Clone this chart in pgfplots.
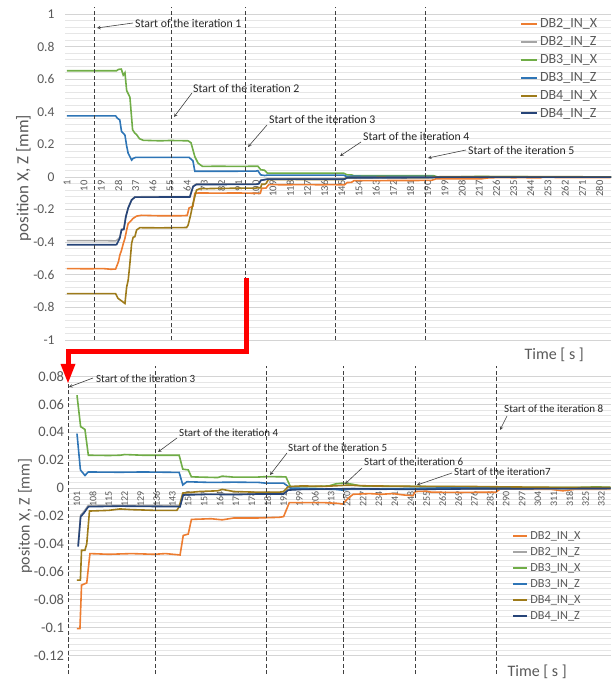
\documentclass[border=0pt]{standalone}
\usepackage{pgfplots}
\pgfplotsset{compat=1.18}
\usepackage{pgfplotstable}
\usepackage{fontspec}
\setmainfont{Carlito}
\definecolor{cOr}{HTML}{ED7D31}
\definecolor{cGr}{HTML}{A5A5A5}
\definecolor{cGn}{HTML}{70AD47}
\definecolor{cBl}{HTML}{2E75B6}
\definecolor{cOl}{HTML}{9E7B1A}
\definecolor{cDb}{HTML}{264478}
\definecolor{tickc}{HTML}{595959}
\definecolor{majg}{HTML}{D4D4D4}
\definecolor{ming}{HTML}{E6E6E6}
\definecolor{dashc}{HTML}{404040}
\definecolor{annc}{HTML}{262626}

\pgfplotstableread{
x y
1 -0.562
12 -0.563
20 -0.562
24 -0.566
26.5 -0.565
27 -0.55
28 -0.52
28.7 -0.48
29.6 -0.45
30.5 -0.41
31.4 -0.376
32.3 -0.325
33.1 -0.285
34.9 -0.264
35.7 -0.254
37.5 -0.24
40 -0.235
50 -0.238
60 -0.238
64 -0.236
65 -0.19
67 -0.18
68 -0.10
70 -0.098
80 -0.099
90 -0.098
100 -0.10
101 -0.1008
102.3 -0.1008
103 -0.0696
105.3 -0.068
106.7 -0.047
115 -0.0475
125 -0.047
135 -0.0475
140 -0.047
146.4 -0.048
147.8 -0.034
150 -0.033
151.4 -0.0225
160 -0.022
165 -0.0228
170 -0.0215
180 -0.0215
190 -0.021
192 -0.0205
194.5 -0.0105
200 -0.0105
210 -0.0105
216 -0.011
218 -0.0115
220 -0.008
222.6 -0.0045
230 -0.004
235 -0.0045
240 -0.004
245 -0.005
249 -0.0055
250 -0.0025
255 -0.0023
257 -0.003
270 -0.0032
280 -0.003
285.5 -0.003
287.5 -0.0005
300 -0.001
310 -0.001
315 -0.002
320 -0.001
336 -0.001
}\tOr

\pgfplotstableread{
x y
1 -0.39
20 -0.39
26.5 -0.392
27.5 -0.385
28.7 -0.37
29.6 -0.32
30.8 -0.318
31.9 -0.24
33.1 -0.19
34.9 -0.14
36.6 -0.122
50 -0.12
65.4 -0.12
67.1 -0.056
68.8 -0.043
100 -0.043
101.5 -0.041
102.6 -0.0195
104 -0.017
106 -0.0125
146.4 -0.0125
147.8 -0.0045
192 -0.004
194 -0.001
336 -0.0005
}\tGr

\pgfplotstableread{
x y
1 0.652
27 0.652
28 0.66
29.5 0.662
30.5 0.625
31.4 0.64
32.3 0.53
34 0.49
35.4 0.29
36.5 0.27
37.5 0.26
39 0.235
41 0.225
50 0.222
55 0.224
60 0.223
64.5 0.222
66 0.21
68 0.125
69.7 0.085
72 0.065
80 0.066
90 0.065
100 0.066
101 0.0665
102.6 0.044
104.5 0.042
106 0.0235
115 0.0233
120 0.0235
122 0.024
130 0.0235
146 0.0235
147.6 0.0135
150 0.013
151.4 0.008
163 0.0075
165 0.0085
170 0.0078
180 0.0078
185 0.0082
193 0.008
195 0.001
205 0.001
212 0.0015
215 0.003
218 0.0035
222 0.0028
226 0.0015
240 0.0012
260 0.001
290 0.0005
320 0.0004
330 0.0008
336 0.0005
}\tGn

\pgfplotstableread{
x y
1 0.375
26.5 0.375
27.5 0.36
28.7 0.35
29.6 0.28
31.4 0.257
32.3 0.19
33.1 0.145
34.9 0.104
35.7 0.114
37 0.12
50 0.12
65 0.12
67 0.10
68 0.035
80 0.035
100 0.036
101 0.039
102.5 0.013
104.5 0.009
106 0.0115
120 0.0113
130 0.0115
146 0.0112
147.6 0.0022
149.4 0.0045
160 0.004
170 0.0042
181 0.004
184 0.0035
192 0.0035
195 0.0
205 -0.0005
215 -0.001
218 -0.0015
222 -0.0005
240 -0.0005
260 0
336 0
}\tBl

\pgfplotstableread{
x y
1 -0.716
26.5 -0.716
27.8 -0.745
29.6 -0.76
31.4 -0.776
32.3 -0.675
33.1 -0.633
34 -0.53
34.9 -0.407
35.7 -0.37
36.6 -0.366
37.5 -0.325
39.2 -0.311
50 -0.312
63.7 -0.31
64.5 -0.295
65.8 -0.233
67.1 -0.16
68.9 -0.08
70.6 -0.072
80 -0.07
100 -0.068
101 -0.066
102.5 -0.066
103 -0.0446
104.5 -0.0446
105.3 -0.040
106.5 -0.0165
115 -0.016
120 -0.015
125 -0.0155
135 -0.016
145 -0.016
146 -0.0134
147.6 -0.0036
155 -0.0025
163 -0.002
165 -0.001
170 -0.0025
180 -0.003
190 -0.003
192 -0.0025
194 0.001
200 0.0015
210 0.0012
220 0.002
230 0.0015
250 0.0012
270 0.0012
290 0.0008
310 0.0005
336 0.0005
}\tOl

\pgfplotstableread{
x y
1 -0.416
26.5 -0.416
27 -0.415
28.7 -0.376
29.6 -0.325
30.8 -0.322
31.9 -0.243
33.1 -0.19
34.9 -0.141
36.6 -0.124
50 -0.123
65.4 -0.123
67.1 -0.059
68.8 -0.046
80 -0.046
100 -0.045
101.5 -0.042
102.6 -0.0206
104 -0.018
106 -0.0134
120 -0.013
146.4 -0.0134
147.8 -0.005
160 -0.0045
170 -0.0048
180 -0.0043
192 -0.0043
194 -0.0015
200 -0.001
220 -0.0005
250 -0.001
280 -0.0005
300 -0.0005
336 -0.0003
}\tDb

\pgfplotsset{
  common/.style={
    scale only axis,
    anchor=south west,
    axis x line*=middle,
    axis y line*=left,
    separate axis lines,
    x axis line style={draw=majg},
    y axis line style={draw=none},
    major tick length=0pt,
    minor tick length=0pt,
    ymajorgrids, yminorgrids,
    major grid style={draw=majg, line width=0.7bp},
    minor grid style={draw=ming, line width=0.7bp},
    minor y tick num=4,
    no marks,
    /pgf/number format/assume math mode=true,
    ticklabel style={text=tickc},
    xticklabel style={rotate=90, anchor=east},
    legend cell align=left,
  },
  dl/.style={dashc, line width=0.8bp, dash pattern=on 4bp off 2.5bp, forget plot},
  dsr/.style={line width=1.6bp},
  bd/.style={line width=1.6bp, restrict x to domain=100.9:340},
}

\begin{document}
\begin{tikzpicture}[x=1bp,y=1bp]
\useasboundingbox (0,0) rectangle (614,682);

% ---------- top chart ----------
\begin{axis}[common,
  at={(65bp,342bp)}, width=546bp, height=333bp,
  xmin=0, xmax=286, ymin=-1, ymax=1.043,
  xtick={1,10,...,280},
  ytick={-1,-0.8,-0.6,-0.4,-0.2,0,0.2,0.4,0.6,0.8,1},
  xticklabel style={font=\fontsize{10.5bp}{12bp}\selectfont},
  yticklabel style={font=\fontsize{13.5bp}{15bp}\selectfont, xshift=-7bp},
  every axis y label/.style={at={(axis description cs:-0.076,0.486)}, rotate=90, anchor=center, font=\fontsize{17bp}{19bp}\selectfont, text=tickc},
  every axis x label/.style={at={(axis description cs:0.896,-0.045)}, anchor=center, font=\fontsize{16bp}{18bp}\selectfont, text=tickc},
  ylabel={position X, Z [mm]},
  xlabel={Time [ s ]},
  legend style={at={(axis description cs:0.833,0.972)}, anchor=north west, draw=none, fill=none,
    font=\fontsize{14bp}{16bp}\selectfont, text=tickc, row sep=3.4bp, inner sep=0pt},
  legend image code/.code={\draw[#1, line width=2bp] (0bp,0bp) -- (16bp,0bp);},
]
\addplot[cOr, dsr] table {\tOr};
\addlegendentry{DB2\_IN\_X}
\addplot[cGr, dsr] table {\tGr};
\addlegendentry{DB2\_IN\_Z}
\addplot[cGn, dsr] table {\tGn};
\addlegendentry{DB3\_IN\_X}
\addplot[cBl, dsr] table {\tBl};
\addlegendentry{DB3\_IN\_Z}
\addplot[cOl, dsr] table {\tOl};
\addlegendentry{DB4\_IN\_X}
\addplot[cDb, dsr] table {\tDb};
\addlegendentry{DB4\_IN\_Z}
\addplot[dl] coordinates {(15.66,-1) (15.66,1.043)};
\addplot[dl] coordinates {(55.97,-1) (55.97,1.043)};
\addplot[dl] coordinates {(94.7,-1) (94.7,1.043)};
\addplot[dl] coordinates {(141.8,-1) (141.8,1.043)};
\addplot[dl] coordinates {(189.0,-1) (189.0,1.043)};
\end{axis}

% ---------- bottom chart ----------
\begin{axis}[common,
  at={(68bp,8bp)}, width=543bp, height=308bp,
  xmin=97.04, xmax=336.2, ymin=-0.1333, ymax=0.08746,
  xtick={101,108,...,332},
  ytick={-0.12,-0.1,-0.08,-0.06,-0.04,-0.02,0,0.02,0.04,0.06,0.08},
  yticklabel style={font=\fontsize{14.5bp}{16bp}\selectfont, xshift=-0.5bp,
    /pgf/number format/fixed, /pgf/number format/precision=2},
  xticklabel style={font=\fontsize{10bp}{12bp}\selectfont},
  every axis y label/.style={at={(axis description cs:-0.079,0.513)}, rotate=90, anchor=center, font=\fontsize{16bp}{18bp}\selectfont, text=tickc},
  every axis x label/.style={at={(axis description cs:0.864,0.0065)}, anchor=center, font=\fontsize{16bp}{18bp}\selectfont, text=tickc},
  ylabel={positon X, Z [mm]},
  xlabel={Time [ s ]},
  legend style={at={(axis description cs:0.818,0.471)}, anchor=north west, draw=none, fill=none,
    font=\fontsize{12.3bp}{14bp}\selectfont, text=tickc, row sep=2.6bp, inner sep=0pt},
  legend image code/.code={\draw[#1, line width=2bp] (0bp,0bp) -- (14bp,0bp);},
]
\addplot[cOr, bd] table {\tOr};
\addlegendentry{DB2\_IN\_X}
\addplot[cGr, bd] table {\tGr};
\addlegendentry{DB2\_IN\_Z}
\addplot[cGn, bd] table {\tGn};
\addlegendentry{DB3\_IN\_X}
\addplot[cBl, bd] table {\tBl};
\addlegendentry{DB3\_IN\_Z}
\addplot[cOl, bd] table {\tOl};
\addlegendentry{DB4\_IN\_X}
\addplot[cDb, bd] table {\tDb};
\addlegendentry{DB4\_IN\_Z}
\addplot[dl] coordinates {(97.3,-0.1333) (97.3,0.08746)};
\addplot[dl] coordinates {(135.4,-0.1333) (135.4,0.08746)};
\addplot[dl] coordinates {(184.3,-0.1333) (184.3,0.08746)};
\addplot[dl] coordinates {(218.2,-0.1333) (218.2,0.08746)};
\addplot[dl] coordinates {(249.9,-0.1333) (249.9,0.08746)};
\addplot[dl] coordinates {(285.6,-0.1333) (285.6,0.08746)};
\end{axis}

% ---------- annotations ----------
\begin{scope}[font=\fontsize{11.8bp}{13bp}\selectfont, annc]
\node[anchor=west, inner sep=0pt] at (135,659) {Start of the iteration 1};
\node[anchor=west, inner sep=0pt] at (193,594) {Start of the iteration 2};
\node[anchor=west, inner sep=0pt] at (269,563) {Start of the iteration 3};
\node[anchor=west, inner sep=0pt] at (363,546) {Start of the iteration 4};
\node[anchor=west, inner sep=0pt] at (468,532) {Start of the iteration 5};
\end{scope}
\begin{scope}[font=\fontsize{11bp}{12bp}\selectfont, annc]
\node[anchor=west, inner sep=0pt] at (96,303) {Start of the iteration 3};
\node[anchor=west, inner sep=0pt] at (179,249) {Start of the iteration 4};
\node[anchor=west, inner sep=0pt] at (288,234) {Start of the iteration 5};
\node[anchor=west, inner sep=0pt] at (364,220) {Start of the iteration 6};
\node[anchor=west, inner sep=0pt] at (454,210) {Start of the iteration7};
\node[anchor=west, inner sep=0pt] at (504,273) {Start of the iteration 8};
\end{scope}
\begin{scope}[dashc, line width=0.6bp, -stealth]
\draw (133,659) -- (97,654);
\draw (192,589) -- (174,565);
\draw (267,557) -- (248,535);
\draw (361,540) -- (340,526);
\draw (466,532) -- (428,524);
\draw (93,304) -- (69,295);
\draw (177,244) -- (158,230);
\draw (287,229) -- (270,207);
\draw (362,214) -- (345,198);
\draw (452,209) -- (417,197);
\draw (507,266) -- (500,252);
\end{scope}

% ---------- red arrow ----------
\draw[red, line width=5bp, line join=miter] (246,404) -- (246,330.5) -- (68,330.5) -- (68,316);
\fill[red] (60.5,318) -- (75.5,318) -- (68,299) -- cycle;
\end{tikzpicture}
\end{document}
